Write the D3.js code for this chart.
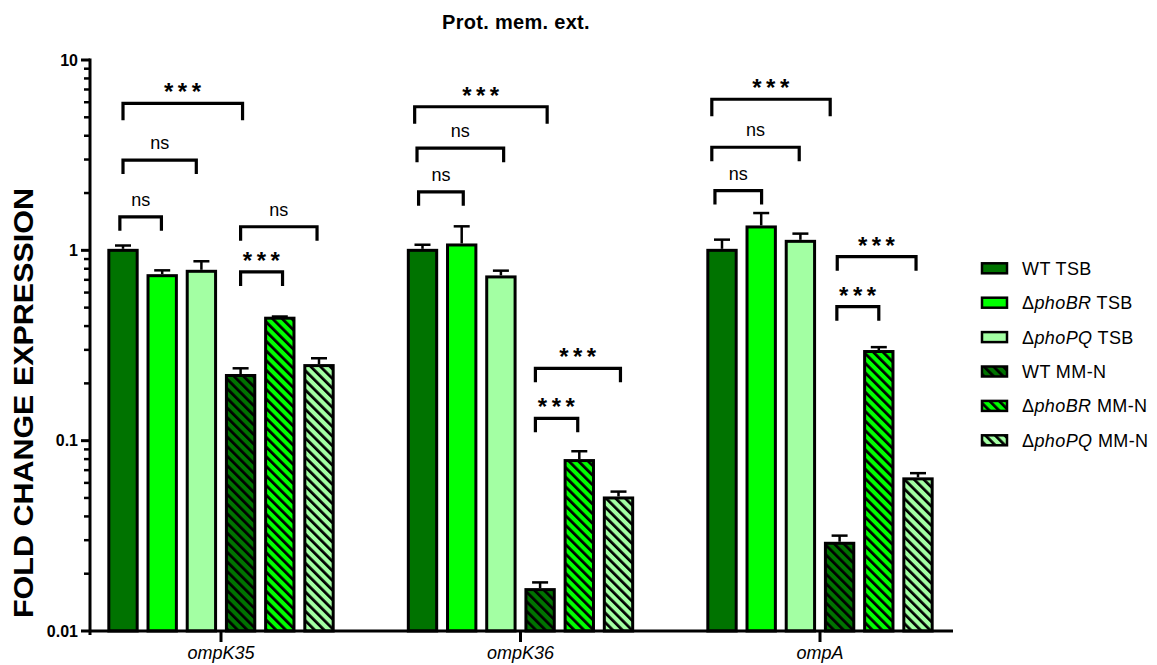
<!DOCTYPE html>
<html>
<head>
<meta charset="utf-8">
<script src="https://cdn.jsdelivr.net/npm/d3@7"></script>
<style>
  html, body { margin: 0; padding: 0; background: #fff; }
  svg { display: block; font-family: Arial, "Liberation Sans", Helvetica, sans-serif; }
</style>
</head>
<body>
<svg id="chart" width="1157" height="665"></svg>
<script>
// ---------------- data ----------------
const title = "Prot. mem. ext.";
const yLabel = "FOLD CHANGE EXPRESSION";
const categories = ["ompK35", "ompK36", "ompA"];
const seriesGenotype = ["WT", "phoBR", "phoPQ", "WT", "phoBR", "phoPQ"];
const seriesMedium = ["TSB", "TSB", "TSB", "MM-N", "MM-N", "MM-N"];
const seriesColors = ["#007300", "#00ff00", "#a3ffa3", "#007300", "#00ff00", "#a3ffa3"];
const seriesHatched = [false, false, false, true, true, true];

const meanOmpK35 = [1.0, 0.736, 0.776, 0.220, 0.440, 0.248];
const upperOmpK35 = [1.06, 0.785, 0.876, 0.240, 0.449, 0.271];
const meanOmpK36 = [1.0, 1.067, 0.725, 0.0165, 0.0786, 0.050];
const upperOmpK36 = [1.07, 1.337, 0.782, 0.0180, 0.088, 0.054];
const meanOmpA = [1.0, 1.327, 1.115, 0.0289, 0.294, 0.063];
const upperOmpA = [1.138, 1.57, 1.224, 0.0317, 0.31, 0.0675];

const yTickValues = [0.01, 0.1, 1, 10];
const yTickLabels = ["0.01", "0.1", "1", "10"];

// significance brackets: group index, from/to (bar index), level (data value), label
const bracketGroup = [0, 0, 0, 0, 0, 1, 1, 1, 1, 1, 2, 2, 2, 2, 2];
const bracketFrom  = [0, 0, -0.08, 3, 3, -0.2, -0.14, -0.1, 2.88, 2.88, -0.26, -0.26, -0.18, 2.94, 2.93];
const bracketTo    = [3.05, 1.87, 0.98, 4.95, 4.07, 3.18, 2.07, 1.04, 5.05, 3.96, 2.76, 1.97, 1.01, 4.95, 4.0];
const bracketLevel = [5.92, 2.98, 1.50, 1.33, 0.77, 5.68, 3.44, 2.03, 0.240, 0.131, 6.22, 3.48, 2.06, 0.926, 0.506];
const bracketLabel = ["***", "ns", "ns", "ns", "***", "***", "ns", "ns", "***", "***", "***", "ns", "ns", "***", "***"];

const means = [meanOmpK35, meanOmpK36, meanOmpA];
const uppers = [upperOmpK35, upperOmpK36, upperOmpA];

// ---------------- layout ----------------
const svg = d3.select("#chart");
const yBottom = 631, yTop = 60;
const xAxisLeft = 89, xAxisRight = 953;

const y = d3.scaleLog().domain([0.01, 10]).range([yBottom, yTop]);
const x0 = d3.scalePoint().domain(categories).range([221, 820]);
const x1 = d3.scaleBand().domain(d3.range(seriesGenotype.length))
  .range([-117.6, 117.6]).paddingInner(0.2).paddingOuter(0.1);
const step = x1.step();
const barCenter = (g, idx) => x0(categories[g]) + x1(0) + x1.bandwidth() / 2 + idx * step;

// patterns
const defs = svg.append("defs");
seriesColors.forEach((c, i) => {
  const p = defs.append("pattern")
    .attr("id", "hatch" + i)
    .attr("patternUnits", "userSpaceOnUse")
    .attr("width", 6.8).attr("height", 10)
    .attr("patternTransform", "rotate(-45)");
  p.append("rect").attr("width", 6.8).attr("height", 10).attr("fill", c);
  p.append("rect").attr("x", 0).attr("width", 2.7).attr("height", 10).attr("fill", "#000");
});
const fillFor = i => seriesHatched[i] ? `url(#hatch${i})` : seriesColors[i];

// title
svg.append("text")
  .attr("x", 516).attr("y", 29)
  .attr("text-anchor", "middle")
  .attr("font-size", 20).attr("font-weight", "bold")
  .attr("letter-spacing", 0.3)
  .text(title);

// y label
svg.append("text")
  .attr("transform", "translate(33,403) rotate(-90)")
  .attr("text-anchor", "middle")
  .attr("font-size", 28).attr("font-weight", "bold")
  .attr("textLength", 430).attr("lengthAdjust", "spacingAndGlyphs")
  .text(yLabel);

// bars
const barData = [];
means.forEach((arr, g) => arr.forEach((v, i) => barData.push({g, i, v, u: uppers[g][i]})));

const bw = x1.bandwidth();
const bars = svg.append("g");
bars.selectAll("rect").data(barData).enter().append("rect")
  .attr("x", d => x0(categories[d.g]) + x1(d.i) + 1.5)
  .attr("width", bw - 3)
  .attr("y", d => y(d.v))
  .attr("height", d => y(0.01) - y(d.v))
  .attr("fill", d => fillFor(d.i))
  .attr("stroke", "#000").attr("stroke-width", 3);

// error bars
const eb = svg.append("g").attr("stroke", "#000").attr("stroke-width", 2.5);
eb.selectAll("line.v").data(barData).enter().append("line")
  .attr("x1", d => barCenter(d.g, d.i)).attr("x2", d => barCenter(d.g, d.i))
  .attr("y1", d => y(d.v) - 1.5).attr("y2", d => y(d.u));
eb.selectAll("line.c").data(barData).enter().append("line")
  .attr("x1", d => barCenter(d.g, d.i) - 8).attr("x2", d => barCenter(d.g, d.i) + 8)
  .attr("y1", d => y(d.u)).attr("y2", d => y(d.u));

// y axis
const yAxis = svg.append("g").attr("stroke", "#000").attr("stroke-linecap", "butt");
yAxis.append("line").attr("x1", 90).attr("x2", 90).attr("y1", yTop - 1.5).attr("y2", yBottom + 4)
  .attr("stroke-width", 3);
const minorTicks = [];
for (let e = -2; e < 1; e++) for (let m = 2; m <= 9; m++) minorTicks.push(m * Math.pow(10, e));
yAxis.selectAll("line.minor").data(minorTicks).enter().append("line")
  .attr("x1", 84).attr("x2", 90)
  .attr("y1", d => y(d)).attr("y2", d => y(d)).attr("stroke-width", 2.5);
yAxis.selectAll("line.major").data(yTickValues).enter().append("line")
  .attr("x1", 81).attr("x2", 90)
  .attr("y1", d => y(d)).attr("y2", d => y(d)).attr("stroke-width", 3);
svg.append("g").selectAll("text").data(yTickValues).enter().append("text")
  .attr("x", 78).attr("y", d => y(d))
  .attr("dy", "0.36em")
  .attr("text-anchor", "end")
  .attr("font-size", 16).attr("font-weight", "bold")
  .text((d, i) => yTickLabels[i]);

// x axis
const xAxis = svg.append("g").attr("stroke", "#000");
xAxis.append("line").attr("x1", xAxisLeft).attr("x2", xAxisRight)
  .attr("y1", yBottom).attr("y2", yBottom).attr("stroke-width", 3);
xAxis.selectAll("line.t").data(categories).enter().append("line")
  .attr("x1", d => x0(d)).attr("x2", d => x0(d))
  .attr("y1", yBottom).attr("y2", yBottom + 11).attr("stroke-width", 3);
svg.append("g").selectAll("text").data(categories).enter().append("text")
  .attr("x", d => x0(d)).attr("y", 659)
  .attr("text-anchor", "middle")
  .attr("font-size", 18).attr("font-style", "italic")
  .text(d => d);

// brackets
const br = svg.append("g");
bracketLabel.forEach((lab, k) => {
  const g = bracketGroup[k];
  const xa = barCenter(g, bracketFrom[k]);
  const xb = barCenter(g, bracketTo[k]);
  const yy = y(bracketLevel[k]);
  const leg = lab === "***" && (bracketTo[k] - bracketFrom[k]) > 2.5 ? 17 : 14;
  br.append("path")
    .attr("d", `M${xa},${yy + leg}V${yy}H${xb}V${yy + leg}`)
    .attr("fill", "none").attr("stroke", "#000").attr("stroke-width", 3.2);
  if (lab === "***") {
    br.append("text")
      .attr("x", (xa + xb) / 2 + 2).attr("y", yy - 3)
      .attr("text-anchor", "middle")
      .attr("font-size", 24).attr("font-weight", "bold")
      .attr("letter-spacing", 4.5)
      .text(lab);
  } else {
    br.append("text")
      .attr("x", (xa + xb) / 2).attr("y", yy - 11)
      .attr("text-anchor", "middle")
      .attr("font-size", 18)
      .text(lab);
  }
});

// legend
const legend = svg.append("g");
seriesGenotype.forEach((gt, i) => {
  const cy = 268.3 + i * 34.4;
  legend.append("rect")
    .attr("x", 982).attr("y", cy - 5).attr("width", 25).attr("height", 10)
    .attr("fill", fillFor(i)).attr("stroke", "#000").attr("stroke-width", 2.5);
  const t = legend.append("text")
    .attr("x", 1022).attr("y", cy).attr("dy", "0.36em")
    .attr("font-size", 18).attr("letter-spacing", 0.4);
  if (gt === "WT") {
    t.append("tspan").text("WT " + seriesMedium[i]);
  } else {
    t.append("tspan").text("\u0394");
    t.append("tspan").attr("font-style", "italic").text(gt);
    t.append("tspan").text(" " + seriesMedium[i]);
  }
});
</script>
</body>
</html>
